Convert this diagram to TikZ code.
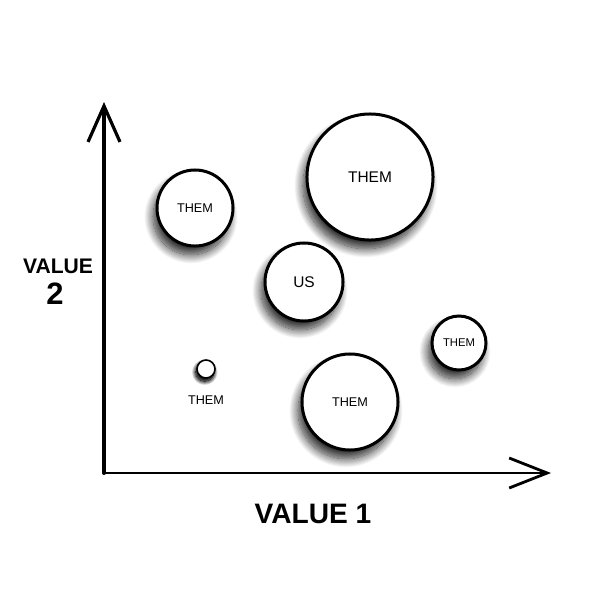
\documentclass[tikz,border=0pt]{standalone}
\usepackage{fontspec}
\setmainfont{Liberation Sans}
\usetikzlibrary{arrows.meta,shadows.blur}
\tikzset{
  bubble/.style={circle, draw=black, line width=0.075cm, fill=white, inner sep=0pt,
    blur shadow={shadow xshift=-0.1cm, shadow yshift=-0.22cm,
      shadow blur radius=0.22cm, shadow blur steps=16, shadow opacity=85}},
  tag/.style={font=\fontsize{9}{10}\selectfont},
  axis/.style={line width=0.1cm, line cap=round},
}
\begin{document}
\begin{tikzpicture}[x=0.025cm,y=-0.025cm]
                    \useasboundingbox (0,0) rectangle (600,600);

                    % Axes corner and tips
                    \coordinate (origin) at (104,473);
                    \coordinate (ytip) at (104,102);
                    \coordinate (xtip) at (551,473);

                    % Drawing axis value 2
                    \draw [axis, -{Straight Barb[length=0.9cm, width=0.8cm, line width=0.08cm]}] (origin) -- (ytip);%

                    % Drawing axis value 1
                    \draw [axis, line width=0.06cm, -{Straight Barb[length=0.95cm, width=0.75cm, line width=0.07cm]}] (origin) -- (xtip);%

                    % Axis labels
                    \node [font=\fontsize{20}{22}\selectfont\bfseries] (vone) at (313,514) {VALUE 1};%
                    \node [font=\fontsize{15}{16}\selectfont\bfseries] (vtwo) at (58,266) {VALUE};%
                    \node [font=\fontsize{22}{24}\selectfont\bfseries] (vtwob) at (55,294) {2};%

                    % Bubble them, top left
                    \node [bubble, minimum size=1.9cm, tag] (themA) at (195,208) {THEM};%

                    % Bubble them, large
                    \node [bubble, minimum size=3.15cm, tag, font=\fontsize{11}{12}\selectfont] (themB) at (370,177) {THEM};%

                    % Bubble us
                    \node [bubble, minimum size=1.95cm, tag, font=\fontsize{11}{12}\selectfont] (us) at (304,282) {US};%

                    % Bubble them, right
                    \node [bubble, minimum size=1.35cm, tag, font=\fontsize{8}{9}\selectfont] (themC) at (459,343) {THEM};%

                    % Bubble them, small
                    \node [bubble, line width=0.04cm, minimum size=0.45cm,
                      blur shadow={shadow xshift=-0.03cm, shadow yshift=-0.08cm, shadow blur radius=0.1cm}] (themD) at (206,369) {};%
                    \node [tag, below=0.3cm] (themDlabel) at (themD.south) {THEM};%

                    % Bubble them, bottom
                    \node [bubble, minimum size=2.4cm, tag] (themE) at (350,402) {THEM};%
\end{tikzpicture}
\end{document}
